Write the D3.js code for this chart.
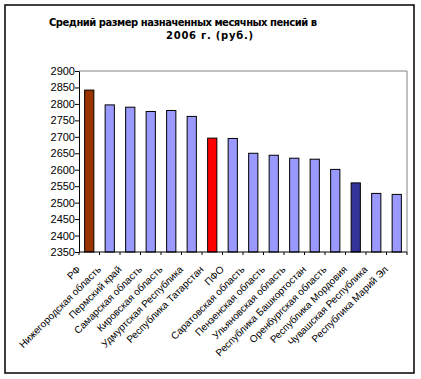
<!DOCTYPE html>
<html><head><meta charset="utf-8">
<script src="https://cdn.jsdelivr.net/npm/d3@7"></script>
<style>body{margin:0;background:#fff}svg{display:block}</style>
</head><body>
<script>
const categories = ["РФ","Нижегородская область","Пермский край","Самарская область","Кировская область","Удмуртская Республика","Республика Татарстан","ПФО","Саратовская область","Пензенская область","Ульяновская область","Республика Башкортостан","Оренбургская область","Республика Мордовия","Чувашская Республика","Республика Марий Эл"];
const values = [2842,2797,2790,2777,2780,2762,2696,2695,2650,2644,2635,2632,2601,2560,2528,2525];
const barColors = ["#993300","#9999FF","#9999FF","#9999FF","#9999FF","#9999FF","#FF0000","#9999FF","#9999FF","#9999FF","#9999FF","#9999FF","#9999FF","#333399","#9999FF","#9999FF"];
const yTicks = [2350,2400,2450,2500,2550,2600,2650,2700,2750,2800,2850,2900];
const titleLines = ["Средний размер назначенных месячных пенсий в","2006 г. (руб.)"];

const W=421,H=379;
const svg=d3.select("body").append("svg").attr("width",W).attr("height",H);
svg.append("rect").attr("x",5).attr("y",5).attr("width",409).attr("height",368)
  .attr("fill","#fff").attr("stroke","#000").attr("stroke-width",1.5);

const L=79,R=407,T=71,B=252;
const x=d3.scaleBand().domain(categories).range([L,R]).paddingInner(0.55).paddingOuter(0.275);
const y=d3.scaleLinear().domain([2350,2900]).range([B,T]);

svg.append("path").attr("d",`M${L},${T}H${R}V${B}`).attr("fill","none").attr("stroke","#808080").attr("stroke-width",1);

svg.selectAll("rect.bar").data(values).enter().append("rect").attr("class","bar")
  .attr("x",(d,i)=>x(categories[i])).attr("y",d=>y(d))
  .attr("width",x.bandwidth()).attr("height",d=>B-y(d))
  .attr("fill",(d,i)=>barColors[i]).attr("stroke","#000").attr("stroke-width",1);

const ya=d3.axisLeft(y).tickValues(yTicks).tickSize(4).tickSizeOuter(0).tickFormat(d3.format("d"));
const gy=svg.append("g").attr("transform",`translate(${L},0)`).call(ya);
gy.select(".domain").attr("stroke","#000");
gy.selectAll("text").attr("font-family","Liberation Sans, Arial, sans-serif").attr("font-size",11).attr("fill","#000").attr("x",-4);

const step=x.step();
const gx=svg.append("g");
gx.append("line").attr("x1",L).attr("x2",R).attr("y1",B).attr("y2",B).attr("stroke","#000");
const bounds=d3.range(categories.length+1).map(i=>L+i*step);
gx.selectAll("line.tk").data(bounds).enter().append("line").attr("class","tk")
  .attr("x1",d=>d).attr("x2",d=>d).attr("y1",B).attr("y2",B+3).attr("stroke","#000");
gx.selectAll("text").data(categories).enter().append("text")
  .attr("transform",d=>`translate(${x(d)+x.bandwidth()/2-8},${B+18}) rotate(-45)`)
  .attr("text-anchor","end").attr("font-family","Liberation Sans, Arial, sans-serif")
  .attr("font-size",10).attr("fill","#000").text(d=>d);

svg.append("text").attr("x",49).attr("y",26)
  .attr("font-family","DejaVu Sans, Verdana, sans-serif").attr("font-weight","bold").attr("font-size",10)
  .attr("textLength",268).attr("lengthAdjust","spacing")
  .text(titleLines[0]);
svg.append("text").attr("x",166).attr("y",39)
  .attr("font-family","DejaVu Sans, Verdana, sans-serif").attr("font-weight","bold").attr("font-size",10)
  .attr("textLength",87).attr("lengthAdjust","spacing")
  .text(titleLines[1]);
</script>
</body></html>
